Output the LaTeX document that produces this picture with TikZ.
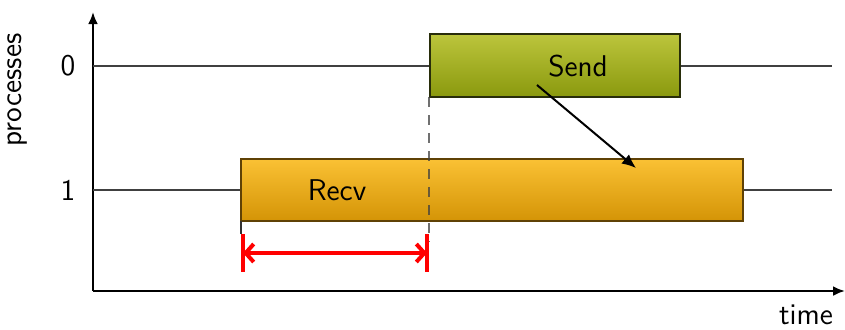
\documentclass[tikz,border=0pt]{standalone}
\usetikzlibrary{arrows.meta}
\definecolor{sendtop}{RGB}{188,197,60}
\definecolor{sendbot}{RGB}{138,153,14}
\definecolor{recvtop}{RGB}{250,193,52}
\definecolor{recvbot}{RGB}{212,148,6}
\definecolor{sendline}{RGB}{40,45,10}
\definecolor{recvline}{RGB}{95,65,5}
\begin{document}
\begin{tikzpicture}[x=0.5pt,y=-0.5pt,
  every node/.style={font=\sffamily\fontsize{15}{18}\selectfont},
  axis/.style={line width=1.4pt,-{Latex[length=6pt,width=5pt]}},
  procline/.style={line width=0.7pt,black!75},
  sendbox/.style={draw=sendline,line width=0.7pt,top color=sendtop,bottom color=sendbot},
  recvbox/.style={draw=recvline,line width=0.7pt,top color=recvtop,bottom color=recvbot},
  waitline/.style={line width=1.4pt,dash pattern=on 5pt off 4pt,black!75,opacity=0.75},
  span/.style={red,line width=2pt,{Straight Barb[length=4pt,width=9pt]}-{Straight Barb[length=4pt,width=9pt]}},
  spanbar/.style={red,line width=2pt}]
\useasboundingbox (0,0) rectangle (845,329);

% axes
\coordinate (origin) at (93,291);
\coordinate (ytip) at (93,12);
\coordinate (xtip) at (845,291);
\draw[axis] (origin) -- (ytip);
\draw[axis] (origin) -- (xtip);
\node[rotate=90] (ylabel) at (18,90) {processes};
\node (xlabel) at (806,315) {time};

% process lines
\coordinate (p0a) at (93,66);  \coordinate (p0b) at (832,66);
\coordinate (p1a) at (93,190); \coordinate (p1b) at (832,190);
\draw[procline] (p0a) -- (p0b);
\draw[procline] (p1a) -- (p1b);
\node (l0) at (68,66) {0};
\node (l1) at (68,190) {1};

% operations
\draw[recvbox] (241,159) rectangle (743,221);
\draw[sendbox] (430,34) rectangle (680,97);
\node (send) at (578,66) {Send};
\node (recv) at (337,190) {Recv};

% message
\coordinate (msgfrom) at (537,85);
\coordinate (msgto) at (636,168);
\draw[line width=1pt,-{Latex[length=7pt,width=6pt]}] (msgfrom) -- (msgto);

% waiting time
\coordinate (wtop) at (429,97);
\coordinate (wbot) at (429,242);
\draw[waitline] (wtop) -- (wbot);
\coordinate (rtop) at (241,221);
\coordinate (rbot) at (241,234);
\draw[line width=0.7pt,black!80] (rtop) -- (rbot);
\coordinate (sa) at (243,253);
\coordinate (sb) at (427,253);
\draw[spanbar] (243,234) -- (243,272);
\draw[spanbar] (427,234) -- (427,272);
\draw[span] (sa) -- (sb);
\end{tikzpicture}
\end{document}
